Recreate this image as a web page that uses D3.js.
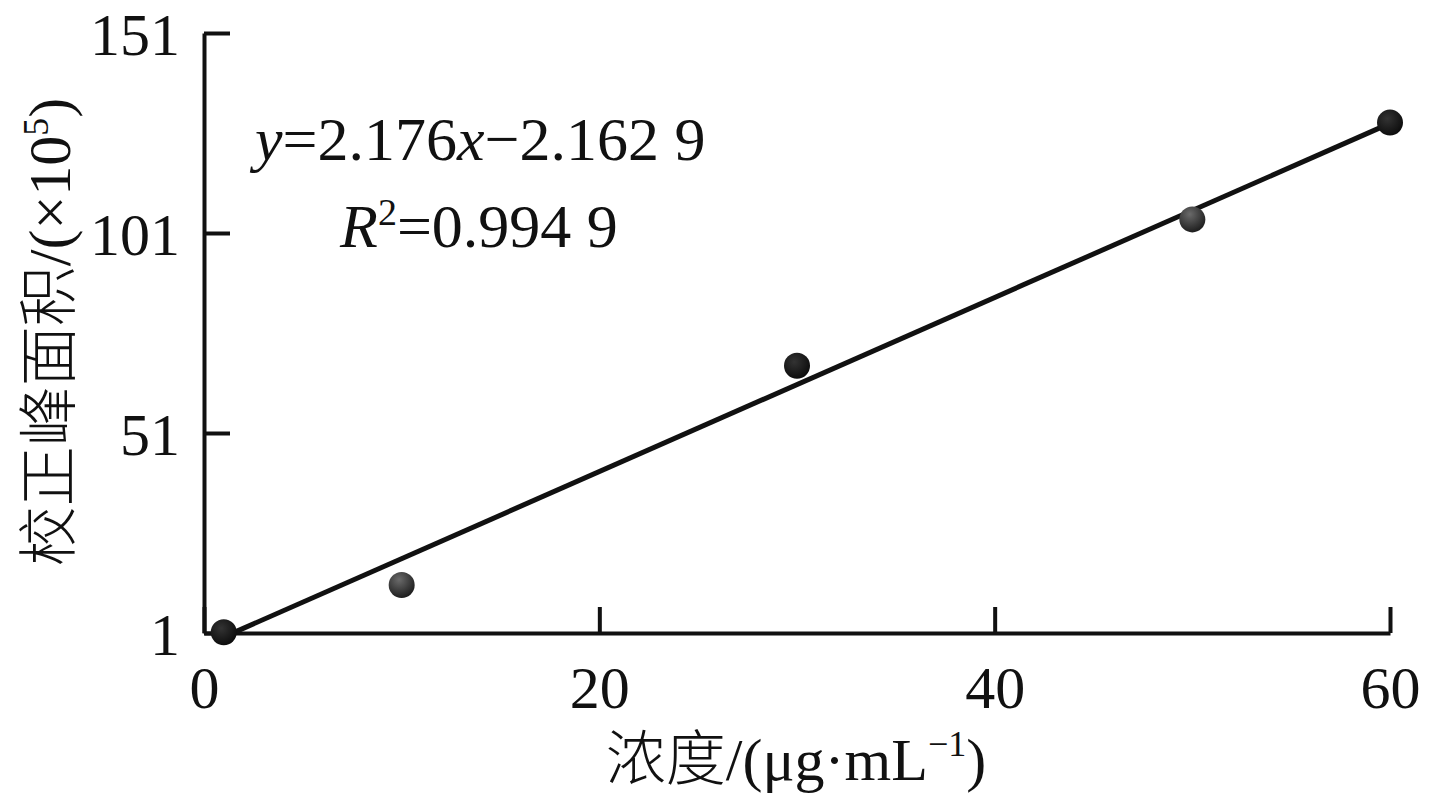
<!DOCTYPE html>
<html>
<head>
<meta charset="utf-8">
<script src="https://cdn.jsdelivr.net/npm/d3@7"></script>
<style>
  body { margin: 0; background: #fff; }
  text { font-family: "Liberation Serif", "Noto Sans CJK SC", serif; fill: #111; }
</style>
</head>
<body>
<div id="chart"></div>
<script>
document.addEventListener("DOMContentLoaded", function() {

    var concentration = [1, 10, 30, 50, 60];
    var peakArea = [1.2, 13, 67.8, 104.4, 128.6];
    var dotShade = ["dark", "grey", "dark", "grey", "dark"];
    var xTicks = [0, 20, 40, 60];
    var yTicks = [1, 51, 101, 151];
    var slope = 2.176, intercept = -2.1629;
    var fitRange = [1.5, 60];

    var margin = { top: 33, right: 43, bottom: 165, left: 204 },
        width = 1433 - margin.left - margin.right,
        height = 798 - margin.top - margin.bottom;

    var x = d3.scaleLinear().domain([0, 60]).range([0, width]);
    var y = d3.scaleLinear().domain([1, 151]).range([height, 0]);

    var root = d3.select("#chart").append("svg")
        .attr("width", 1433)
        .attr("height", 798);

    var defs = root.append("defs");
    var g1 = defs.append("radialGradient").attr("id", "dark")
        .attr("cx", "40%").attr("cy", "35%").attr("r", "65%");
    g1.append("stop").attr("offset", "0%").attr("stop-color", "#333");
    g1.append("stop").attr("offset", "100%").attr("stop-color", "#0d0d0d");
    var g2 = defs.append("radialGradient").attr("id", "grey")
        .attr("cx", "40%").attr("cy", "30%").attr("r", "70%");
    g2.append("stop").attr("offset", "0%").attr("stop-color", "#6a6a6a");
    g2.append("stop").attr("offset", "100%").attr("stop-color", "#1e1e1e");

    var svg = root.append("g")
        .attr("transform", "translate(" + margin.left + "," + margin.top + ")");

    // axes with inward ticks
    var xAxis = svg.append("g")
        .attr("transform", "translate(0," + height + ")")
        .call(d3.axisBottom(x).tickValues(xTicks).tickSizeInner(-26).tickSizeOuter(0).tickPadding(32));
    var yAxis = svg.append("g")
        .call(d3.axisLeft(y).tickValues(yTicks).tickSizeInner(-26).tickSizeOuter(0).tickPadding(24));

    [xAxis, yAxis].forEach(function(a) {
        a.selectAll("path, line").attr("stroke", "#111").attr("stroke-width", 4);
        a.selectAll("text").style("font-size", "60px").style("font-family", "Liberation Serif");
    });
    yAxis.selectAll("text").attr("dy", "0.36em");

    // fit line
    var fit = fitRange.map(function(v) { return { cx: v, cy: slope * v + intercept }; });
    svg.append("path")
        .datum(fit)
        .attr("fill", "none")
        .attr("stroke", "#111")
        .attr("stroke-width", 5)
        .attr("d", d3.line().x(function(d) { return x(d.cx); }).y(function(d) { return y(d.cy); }));

    // points
    svg.selectAll(".dot")
        .data(concentration)
        .enter().append("circle")
        .attr("class", "dot")
        .attr("r", 13)
        .attr("cx", function(d) { return x(d); })
        .attr("cy", function(d, i) { return y(peakArea[i]); })
        .attr("fill", function(d, i) { return "url(#" + dotShade[i] + ")"; });

    // equation
    var eq = root.append("text").attr("x", 255).attr("y", 160).style("font-size", "62px");
    eq.append("tspan").style("font-style", "italic").text("y");
    eq.append("tspan").text("=2.176");
    eq.append("tspan").style("font-style", "italic").text("x");
    eq.append("tspan").text("\u22122.162 9");

    var r2 = root.append("text").attr("x", 340).attr("y", 247).style("font-size", "62px");
    r2.append("tspan").style("font-style", "italic").text("R");
    r2.append("tspan").attr("dy", -22).style("font-size", "38px").text("2");
    r2.append("tspan").attr("dy", 22).text("=0.994 9");

    // axis titles
    var xl = root.append("text")
        .attr("x", 796).attr("y", 780)
        .attr("text-anchor", "middle")
        .style("font-size", "60px");
    xl.append("tspan").style("font-family", "Noto Sans CJK SC").style("font-weight", 300).text("浓度");
    xl.append("tspan").text("/(\u03bcg\u00b7mL");
    xl.append("tspan").attr("dy", -24).style("font-size", "36px").text("\u22121");
    xl.append("tspan").attr("dy", 24).text(")");

    var yl = root.append("text")
        .attr("transform", "translate(70,332) rotate(-90)")
        .attr("text-anchor", "middle")
        .style("font-size", "60px");
    yl.append("tspan").style("font-family", "Noto Sans CJK SC").style("font-weight", 300).text("校正峰面积");
    yl.append("tspan").text("/(\u00d710");
    yl.append("tspan").attr("dy", -22).style("font-size", "36px").text("5");
    yl.append("tspan").attr("dy", 22).text(")");
});
</script>
</body>
</html>
